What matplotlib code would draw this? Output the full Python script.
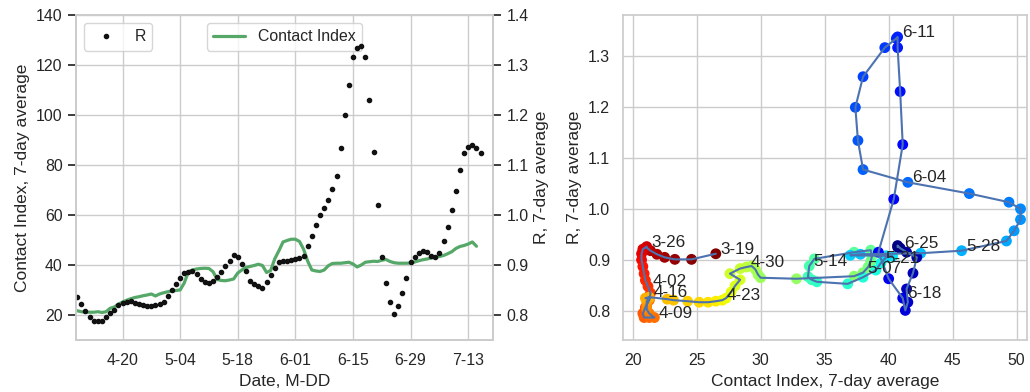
import numpy as np
import pandas as pd
import matplotlib
matplotlib.use('Agg')
import matplotlib.pyplot as plt
import matplotlib.dates as mdates
import seaborn as sns

sns.set_theme(style='whitegrid')
plt.rcParams.update({
    'font.family': ['Liberation Sans', 'DejaVu Sans'],
    'axes.labelsize': 12.5,
    'xtick.labelsize': 11.4,
    'ytick.labelsize': 11.4,
    'legend.fontsize': 11.4,
})

# daily 7-day averages, starting 2020-03-19
start = '2020-03-19'
contact_index = [
    26.5, 24.6, 23.3, 22.5, 21.9, 21.4, 21.1, 21.1, 20.8, 20.7,
    20.7, 20.8, 20.9, 21.0, 21.2, 21.4, 21.3, 21.0, 20.8, 20.9,
    21.3, 21.7, 21.3, 21.1, 21.1, 21.1, 21.3, 21.0, 21.3, 22.7,
    23.2, 24.3, 25.2, 25.9, 26.5, 27.0, 27.3, 27.7, 28.0, 28.4,
    27.6, 28.4, 28.9, 29.3, 29.6, 29.8, 30.0, 32.8, 37.3, 38.0,
    38.4, 38.6, 38.7, 38.6, 37.3, 34.2, 33.8, 33.7, 34.0, 34.4,
    36.8, 38.0, 39.0, 39.4, 39.8, 40.3, 39.8, 37.0, 37.8, 42.5,
    45.7, 49.2, 49.8, 50.3, 50.3, 49.4, 46.3, 41.5, 38.0, 37.6,
    37.4, 38.0, 39.7, 40.6, 40.7, 40.7, 40.9, 41.1, 40.4, 39.2,
    40.0, 41.1, 41.3, 41.5, 41.4, 41.9, 42.2, 41.4, 40.9, 40.7,
    40.7, 40.7, 40.8, 41.2, 41.7, 42.1, 42.4, 42.8, 43.1, 43.4,
    43.8, 44.5, 45.3, 46.6, 47.4, 47.8, 48.4, 49.2, 47.5,
]
r_value = [
    0.912, 0.901, 0.901, 0.905, 0.911, 0.918, 0.924, 0.926, 0.921, 0.912,
    0.900, 0.887, 0.873, 0.860, 0.848,
    0.835, 0.821, 0.807, 0.795, 0.787, 0.787, 0.787, 0.795, 0.803, 0.809,
    0.819, 0.823, 0.825, 0.827, 0.823, 0.821, 0.819, 0.817, 0.817, 0.819,
    0.821, 0.825, 0.837, 0.849, 0.861, 0.873, 0.883, 0.886, 0.888, 0.881,
    0.871, 0.865, 0.863, 0.868, 0.875, 0.886, 0.897, 0.908, 0.919, 0.915,
    0.902, 0.888, 0.867, 0.861, 0.857, 0.853, 0.866, 0.880, 0.894, 0.905,
    0.907, 0.908, 0.909, 0.911, 0.913, 0.918, 0.937, 0.957, 0.979, 1.000,
    1.013, 1.030, 1.052, 1.077, 1.134, 1.199, 1.259, 1.316, 1.334, 1.337,
    1.316, 1.230, 1.126, 1.019, 0.915, 0.863, 0.825, 0.801, 0.817, 0.843,
    0.874, 0.905, 0.915, 0.923, 0.928, 0.925, 0.918, 0.915, 0.923, 0.947,
    0.975, 1.009, 1.047, 1.089, 1.123, 1.136, 1.139, 1.133, 1.123,
]
r_lag_days = 6        # R is drawn 6 days later on the time plot
n_phase = 101         # days shown in the phase plot
label_every = 7

ci_dates = pd.date_range(start, periods=len(contact_index))
r_dates = pd.date_range(start, periods=len(r_value))

fig = plt.figure(figsize=(10.3, 3.92), dpi=100)

# ---- left: time series
ax = fig.add_axes([0.0735, 0.1327, 0.4054, 0.8291])
ax2 = ax.twinx()
ax.plot(ci_dates, contact_index, color='#55a868', lw=2.3, label='Contact Index')
ax2.plot(r_dates + pd.Timedelta(days=r_lag_days), r_value, '.', color='#111111',
         ms=6, label='R')
ax2.grid(False)

ax.set_xlim(pd.Timestamp('2020-04-08 15:00'), pd.Timestamp('2020-07-19 02:00'))
ax.set_xticks(pd.date_range('2020-04-20', '2020-07-13', freq='14D'))
ax.xaxis.set_major_formatter(mdates.DateFormatter('%-m-%d'))
ax.set_ylim(10, 140)
ax.set_yticks(range(20, 141, 20))
ax2.set_ylim(0.75, 1.4)
ax2.set_yticks([0.8, 0.9, 1.0, 1.1, 1.2, 1.3, 1.4])
ax.set_xlabel('Date, M-DD')
ax.set_ylabel('Contact Index, 7-day average')
ax2.set_ylabel('R, 7-day average')
ax.legend(loc='upper center')
ax2.legend(loc='upper left')

# ---- right: phase plot
ax3 = fig.add_axes([0.6051, 0.1327, 0.3919, 0.8291])
ci_p = contact_index[:n_phase]
r_p = r_value[:n_phase]
ax3.scatter(ci_p, r_p, c=np.arange(n_phase), cmap='jet_r', s=46, zorder=2)
ax3.plot(ci_p, r_p, color='#4c72b0', lw=1.5, zorder=3)
for i in range(0, n_phase, label_every):
    ax3.annotate(ci_dates[i].strftime('%-m-%d'), (ci_p[i], r_p[i]),
                 xytext=(3.2, 0), textcoords='offset points',
                 fontsize=12.3, va='baseline', zorder=4)
ax3.set_xlim(19.27, 50.8)
ax3.set_ylim(0.743, 1.380)
ax3.set_xticks(range(20, 51, 5))
ax3.set_yticks([0.8, 0.9, 1.0, 1.1, 1.2, 1.3])
ax3.set_xlabel('Contact Index, 7-day average')
ax3.set_ylabel('R, 7-day average')

fig.savefig('out.png', dpi=100)
